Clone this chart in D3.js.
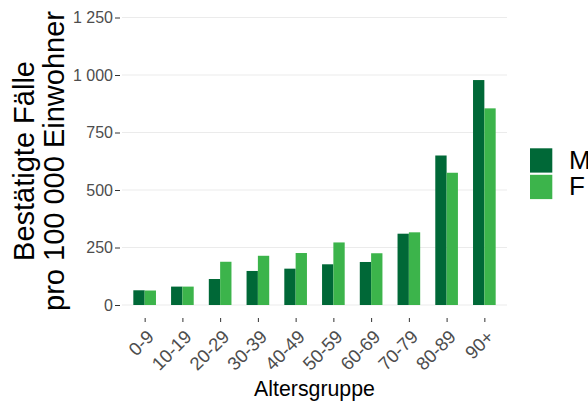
<!DOCTYPE html>
<html>
<head>
<meta charset="utf-8">
<script src="https://cdn.jsdelivr.net/npm/d3@7"></script>
<style>
  body { margin: 0; background: #fff; }
  svg { display: block; font-family: "Liberation Sans", Arial, sans-serif; }
</style>
</head>
<body>
<svg id="chart" width="588" height="401"></svg>
<script>
const groups = ["0-9", "10-19", "20-29", "30-39", "40-49", "50-59", "60-69", "70-79", "80-89", "90+"];
const sexes = ["M", "F"];
const valuesM = [64, 80, 113, 148, 158, 177, 187, 310, 650, 978];
const valuesF = [63, 80, 188, 214, 226, 272, 225, 316, 575, 855];
const yTicks = [0, 250, 500, 750, 1000, 1250];
const colors = { M: "#006837", F: "#3cb44b" };

const width = 588, height = 401;
const panel = { left: 122, right: 507, top: 3, bottom: 318 };

const svg = d3.select("#chart");

const rows = groups.map((g, i) => ({ group: g, M: valuesM[i], F: valuesF[i] }));

// discrete axis with 0.6 expansion on each side, like ggplot
const x = d3.scalePoint()
  .domain(groups)
  .range([panel.left, panel.right])
  .padding(0.6);

const barGroupWidth = x.step() * 0.6;
const xSub = d3.scaleBand()
  .domain(sexes)
  .range([-barGroupWidth / 2, barGroupWidth / 2]);

const y = d3.scaleLinear()
  .domain([0, 1250])
  .range([305, 17.5]);

const fmt = v => d3.format(",")(v).replace(/,/g, " ");

// grid
svg.append("g")
  .selectAll("line")
  .data(yTicks)
  .join("line")
  .attr("x1", panel.left)
  .attr("x2", panel.right)
  .attr("y1", d => y(d))
  .attr("y2", d => y(d))
  .attr("stroke", "#ebebeb")
  .attr("stroke-width", 1.1);

// bars
svg.append("g")
  .selectAll("g")
  .data(rows)
  .join("g")
  .attr("transform", d => `translate(${x(d.group)},0)`)
  .selectAll("rect")
  .data(d => sexes.map(s => ({ sex: s, value: d[s] })))
  .join("rect")
  .attr("x", d => xSub(d.sex))
  .attr("width", xSub.bandwidth())
  .attr("y", d => y(d.value))
  .attr("height", d => y(0) - y(d.value))
  .attr("fill", d => colors[d.sex]);

// y axis
const yAxis = svg.append("g")
  .attr("transform", `translate(${panel.left - 2},0)`)
  .call(d3.axisLeft(y).tickValues(yTicks).tickFormat(fmt).tickSize(5).tickPadding(2));
yAxis.select(".domain").remove();
yAxis.selectAll("line").attr("stroke", "#333");
yAxis.selectAll("text")
  .attr("fill", "#4d4d4d")
  .style("font-size", "16px")
  .style("font-family", "Liberation Sans, Arial, sans-serif");

// x axis
const xAxis = svg.append("g")
  .attr("transform", `translate(0,${panel.bottom})`)
  .call(d3.axisBottom(x).tickSize(4).tickPadding(4));
xAxis.select(".domain").remove();
xAxis.selectAll("line").attr("stroke", "#333");
xAxis.selectAll("text")
  .attr("fill", "#4d4d4d")
  .style("font-size", "18.5px")
  .style("font-family", "Liberation Sans, Arial, sans-serif")
  .attr("text-anchor", "end")
  .attr("dy", null)
  .attr("y", 0)
  .attr("transform", "translate(10,20) rotate(-45)");

// axis titles
svg.append("text")
  .attr("x", (panel.left + panel.right) / 2)
  .attr("y", 396)
  .attr("text-anchor", "middle")
  .style("font-size", "21.3px")
  .attr("fill", "#000")
  .text("Altersgruppe");

const yTitle = svg.append("text")
  .attr("transform", "translate(0,161) rotate(-90)")
  .attr("text-anchor", "middle")
  .style("font-size", "29px")
  .attr("fill", "#000");
yTitle.append("tspan").attr("x", 0).attr("y", 34).text("Bestätigte Fälle");
yTitle.append("tspan").attr("x", 0).attr("y", 64).text("pro 100 000 Einwohner");

// legend
const legend = svg.append("g").attr("transform", "translate(530,148.3)");
sexes.forEach((s, i) => {
  legend.append("rect")
    .attr("x", 0)
    .attr("y", i * 26.5)
    .attr("width", 22.3)
    .attr("height", 24.3)
    .attr("fill", colors[s]);
  legend.append("text")
    .attr("x", 39)
    .attr("y", i * 26 + 21)
    .style("font-size", "26px")
    .attr("fill", "#000")
    .text(s);
});
</script>
</body>
</html>
